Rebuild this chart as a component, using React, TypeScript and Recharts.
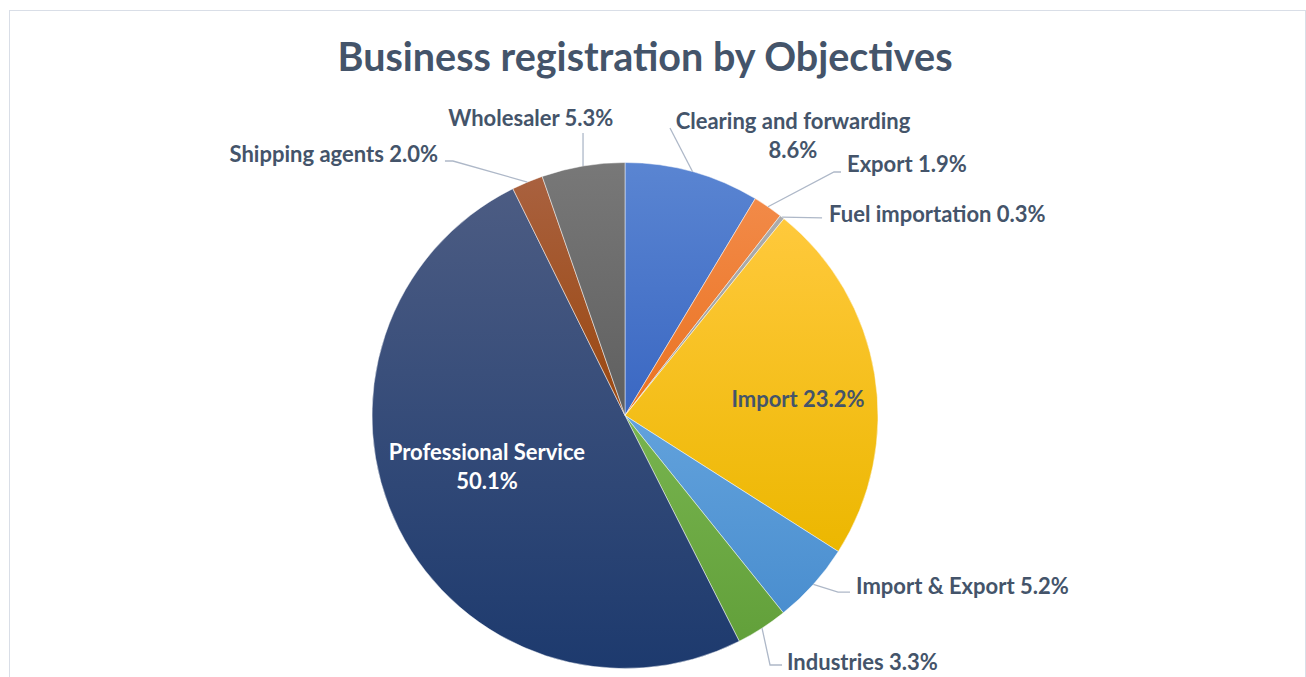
import React from 'react';
import { PieChart, Pie, Cell } from 'recharts';

const categories = [
  'Clearing and forwarding',
  'Export',
  'Fuel importation',
  'Import',
  'Import & Export',
  'Industries',
  'Professional Service',
  'Shipping agents',
  'Wholesaler',
];
const shares = [8.6, 1.9, 0.3, 23.2, 5.2, 3.3, 50.1, 2.0, 5.3];
const title = 'Business registration by Objectives';

const colorsTop = ['#5A85D2', '#F28A48', '#ABABAB', '#FFC93C', '#62A2DC', '#78B44F', '#4C5C83', '#A9613F', '#787878'];
const colorsBottom = ['#3A67C2', '#EA7220', '#A0A0A0', '#ECB700', '#4A8ECF', '#62A03A', '#1D3A6E', '#9A470F', '#5F5F5F'];

const data = categories.map((name, i) => ({ name, value: shares[i] }));

// label layout: offsets relative to the slice's outer-edge midpoint
type Layout = {
  leader: [number, number][];
  text: [number, number];
  anchor: 'start' | 'middle' | 'end';
  wrap: boolean;
  inside?: boolean;
};
const layouts: Layout[] = [
  { leader: [[-22.6, -43.7]], text: [100.4, -49.7], anchor: 'middle', wrap: true },
  { leader: [[66, -34.8], [73, -34.8]], text: [79, -41.8], anchor: 'start', wrap: false },
  { leader: [[40, 0.7]], text: [47, -2.3], anchor: 'start', wrap: false },
  { leader: [], text: [-76.7, 24.4], anchor: 'middle', wrap: false, inside: true },
  { leader: [[24.7, 7.6], [36.7, 7.6]], text: [42.7, 1.6], anchor: 'start', wrap: false },
  { leader: [[8, 36.8], [20, 36.8]], text: [25, 34.8], anchor: 'start', wrap: false },
  { leader: [], text: [88.2, -75.8], anchor: 'middle', wrap: true, inside: true },
  { leader: [[-74.4, -21.1], [-82.4, -21.1]], text: [-89.4, -28.1], anchor: 'end', wrap: false },
  { leader: [[0, -33]], text: [-52.2, -48], anchor: 'middle', wrap: false },
];

const TEXT = '#44546A';
const FONT = 'Lato, "Open Sans", sans-serif';
const RAD = Math.PI / 180;

const renderLabel = (props: any) => {
  const { cx, cy, midAngle, outerRadius, index, name, value } = props;
  const ex = cx + outerRadius * Math.cos(-midAngle * RAD);
  const ey = cy + outerRadius * Math.sin(-midAngle * RAD);
  const L = layouts[index];
  const pct = `${Number(value).toFixed(1)}%`;
  const lines = L.wrap ? [name, pct] : [`${name} ${pct}`];
  const pts = [[ex, ey], ...L.leader.map(([dx, dy]) => [ex + dx, ey + dy])];
  const tx = ex + L.text[0];
  const ty = ey + L.text[1] - 1;
  return (
    <g key={`lbl-${index}`}>
      {pts.length > 1 && (
        <polyline
          points={pts.map((p) => p.join(',')).join(' ')}
          fill="none"
          stroke="#AEB8C8"
          strokeWidth={1.3}
        />
      )}
      {lines.map((ln, k) => (
        <text
          key={k}
          x={tx}
          y={ty + k * 28.5}
          textAnchor={L.anchor}
          dominantBaseline="central"
          fill={L.inside && index === 6 ? '#FFFFFF' : TEXT}
          fontFamily={FONT}
          fontWeight={700}
          fontSize={22}
        >
          {ln}
        </text>
      ))}
    </g>
  );
};

export default function App() {
  return (
    <div
      style={{
        position: 'fixed',
        left: 0,
        top: 0,
        width: 1306,
        height: 677,
        overflow: 'hidden',
        background: '#FFFFFF',
      }}
    >
      <div
        style={{
          position: 'absolute',
          left: 9,
          top: 10,
          width: 1297,
          height: 720,
          boxSizing: 'border-box',
          border: '1px solid #D9DEE7',
        }}
      />
      <div
        style={{
          position: 'absolute',
          left: 0,
          top: 33,
          width: 1290,
          textAlign: 'center',
          fontFamily: FONT,
          fontWeight: 700,
          fontSize: 39.5,
          lineHeight: '46px',
          color: TEXT,
        }}
      >
        {title}
      </div>
      <div style={{ position: 'absolute', left: 0, top: 0 }}>
        <PieChart width={1306} height={677} margin={{ top: 0, right: 0, bottom: 0, left: 0 }}>
          <defs>
            {colorsTop.map((c, i) => (
              <linearGradient key={i} id={`sliceGrad${i}`} x1="0" y1="0" x2="0" y2="1">
                <stop offset="0%" stopColor={c} />
                <stop offset="100%" stopColor={colorsBottom[i]} />
              </linearGradient>
            ))}
          </defs>
          <Pie
            data={data}
            dataKey="value"
            nameKey="name"
            cx={625}
            cy={415.5}
            outerRadius={253}
            startAngle={90}
            endAngle={-270}
            stroke="rgba(255,255,255,0.6)"
            strokeWidth={0.8}
            label={renderLabel}
            labelLine={false}
            isAnimationActive={false}
          >
            {data.map((d, i) => (
              <Cell key={d.name} fill={`url(#sliceGrad${i})`} />
            ))}
          </Pie>
        </PieChart>
      </div>
    </div>
  );
}
